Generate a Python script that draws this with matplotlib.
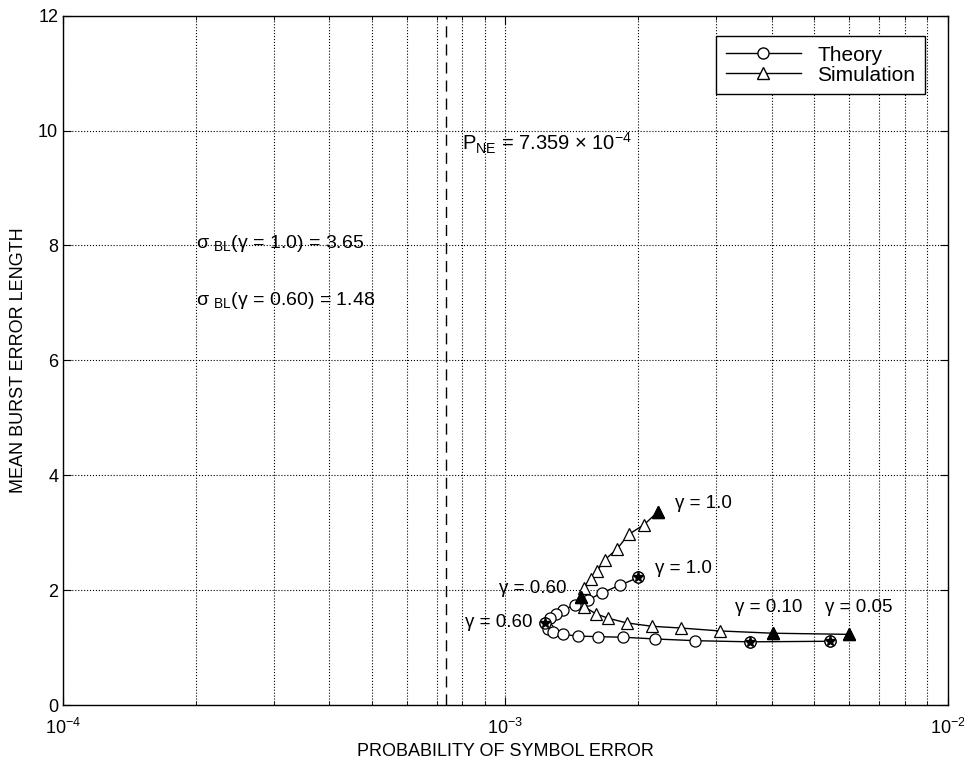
import matplotlib.pyplot as plt
from matplotlib.lines import Line2D
import numpy as np

plt.rcParams['font.family'] = ['Liberation Sans', 'DejaVu Sans']
plt.rcParams['mathtext.fontset'] = 'custom'
plt.rcParams['mathtext.rm'] = 'Liberation Sans'
plt.rcParams['mathtext.it'] = 'Liberation Sans'

# theory curve, ordered by gamma from 1.0 down to 0.05
theory_pe = [2.00e-3, 1.82e-3, 1.65e-3, 1.54e-3, 1.44e-3, 1.35e-3, 1.30e-3, 1.26e-3,
             1.23e-3, 1.25e-3, 1.28e-3, 1.35e-3, 1.46e-3, 1.62e-3, 1.85e-3, 2.18e-3,
             2.69e-3, 3.57e-3, 5.43e-3]
theory_len = [2.22, 2.09, 1.95, 1.83, 1.74, 1.66, 1.59, 1.52,
              1.42, 1.33, 1.27, 1.23, 1.20, 1.19, 1.18, 1.15,
              1.12, 1.10, 1.11]
theory_marked = [0, 8, 17, 18]   # gamma = 1.0, 0.60, 0.10, 0.05

# simulation curve, same gamma order
sim_pe = [2.21e-3, 2.06e-3, 1.90e-3, 1.79e-3, 1.68e-3, 1.61e-3, 1.56e-3, 1.51e-3,
          1.48e-3, 1.51e-3, 1.60e-3, 1.71e-3, 1.88e-3, 2.15e-3, 2.50e-3, 3.05e-3,
          4.02e-3, 5.98e-3]
sim_len = [3.36, 3.14, 2.97, 2.72, 2.53, 2.33, 2.19, 2.03,
           1.88, 1.71, 1.59, 1.51, 1.43, 1.37, 1.34, 1.29,
           1.25, 1.23]
sim_marked = [0, 8, 16, 17]

p_ne = 7.359e-4

fig = plt.figure(figsize=(9.64, 7.65), dpi=100)
ax = fig.add_axes([0.0654, 0.0784, 0.9176, 0.9011])

ax.plot(theory_pe, theory_len, color='black', lw=1.0, marker='o', ms=8,
        mfc='white', mec='black', mew=0.9)
ax.plot(sim_pe, sim_len, color='black', lw=1.0, marker='^', ms=9,
        mfc='white', mec='black', mew=0.9)

# highlighted gamma points
tx = np.array(theory_pe)[theory_marked]
ty = np.array(theory_len)[theory_marked]
ax.plot(tx, ty, ls='none', marker='o', ms=8, mfc='white', mec='black', mew=0.9)
ax.plot(tx, ty, ls='none', marker='*', ms=8, mfc='black', mec='black')
sx = np.array(sim_pe)[sim_marked]
sy = np.array(sim_len)[sim_marked]
ax.plot(sx, sy, ls='none', marker='^', ms=9, mfc='black', mec='black')

ax.axvline(p_ne, color='black', ls=(0, (8, 5)), lw=1.0)

ax.set_xscale('log')
ax.set_xlim(1e-4, 1e-2)
ax.set_ylim(0, 12)
ax.set_yticks([0, 2, 4, 6, 8, 10, 12])
ax.grid(True, which='both', axis='x', color='black', ls=':', lw=0.8)
ax.grid(True, which='major', axis='y', color='black', ls=':', lw=0.8)
ax.tick_params(which='both', direction='in', top=True, right=True, labelsize=13)
ax.tick_params(which='major', length=6)
ax.tick_params(which='minor', length=3)
ax.tick_params(axis='x', pad=9)
for s in ax.spines.values():
    s.set_linewidth(1.0)

ax.set_xlabel('PROBABILITY OF SYMBOL ERROR', fontsize=13, labelpad=4)
ax.set_ylabel('MEAN BURST ERROR LENGTH', fontsize=13, labelpad=8)

fs = 13.5
ax.text(8.0e-4, 9.77, r'P$_{\rm NE}$ = 7.359 × 10$^{-4}$', fontsize=14.5, va='center')
ax.text(2.0e-4, 8.03, r'σ $_{\rm BL}$(γ = 1.0) = 3.65', fontsize=14, va='center')
ax.text(2.0e-4, 7.04, r'σ $_{\rm BL}$(γ = 0.60) = 1.48', fontsize=14, va='center')
ax.text(2.42e-3, 3.51, 'γ = 1.0', fontsize=fs, va='center')
ax.text(2.18e-3, 2.38, 'γ = 1.0', fontsize=fs, va='center')
ax.text(9.67e-4, 2.03, 'γ = 0.60', fontsize=fs, va='center')
ax.text(8.1e-4, 1.43, 'γ = 0.60', fontsize=fs, va='center')
ax.text(3.30e-3, 1.70, 'γ = 0.10', fontsize=fs, va='center')
ax.text(5.27e-3, 1.70, 'γ = 0.05', fontsize=fs, va='center')

handles = [
    Line2D([], [], color='black', lw=1.0, marker='o', ms=8, mfc='white', mec='black'),
    Line2D([], [], color='black', lw=1.0, marker='^', ms=9, mfc='white', mec='black'),
]
leg = ax.legend(handles, ['Theory', 'Simulation'], loc='upper right', fontsize=15,
                frameon=True, fancybox=False, edgecolor='black', framealpha=1,
                handlelength=3.6, handletextpad=0.8, borderpad=0.45,
                labelspacing=0.05, borderaxespad=0,
                bbox_to_anchor=(0.974, 0.970))
leg.get_frame().set_linewidth(1.0)

fig.savefig('out.png', dpi=100)
